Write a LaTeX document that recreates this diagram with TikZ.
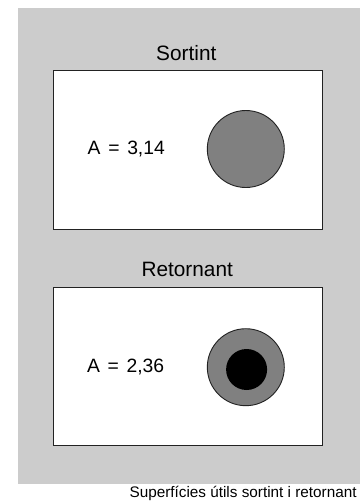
\documentclass[tikz,border=0pt]{standalone}
\usepackage{fontspec}
\setmainfont{Liberation Sans}
\definecolor{bggray}{HTML}{CCCCCC}
\definecolor{discgray}{HTML}{808080}
\definecolor{edge}{HTML}{222222}
\newcommand{\eqsp}{\hspace{0.4em}}
\begin{document}
\begin{tikzpicture}[x=1pt,y=-1pt,
  panel/.style={draw=edge,line width=1.4pt,fill=white,rectangle,inner sep=0pt},
  disc/.style={draw=edge,line width=0.9pt,fill=discgray,circle,inner sep=0pt,minimum size=77pt},
  core/.style={fill=black,circle,inner sep=0pt,minimum size=41pt},
  title/.style={font=\fontsize{20.8}{24}\selectfont,anchor=base,inner sep=0pt},
  area/.style={font=\fontsize{19.3}{22}\selectfont,anchor=base west,inner sep=0pt},
  caption/.style={font=\fontsize{15.3}{18}\selectfont,anchor=base east,inner sep=0pt}]
\useasboundingbox (0,0) rectangle (360,504);
\fill[white] (0,0) rectangle (360,504);
\fill[bggray] (18,8) rectangle (360,484);
% top panel
\node[panel,minimum width=269pt,minimum height=158.6pt] (box1) at (187.8,150) {};
\node[title] (t1) at (186.3,60) {Sortint};
\node[area] (a1) at (87.5,154) {A\eqsp=\eqsp3,14};
\node[disc] (c1) at (245.8,149) {};
% bottom panel
\node[panel,minimum width=269pt,minimum height=158pt] (box2) at (187.8,366.6) {};
\node[title] (t2) at (187.2,276) {Retornant};
\node[area] (a2) at (86.8,372.5) {A\eqsp=\eqsp2,36};
\node[disc] (c2) at (245.8,367.2) {};
\node[core] (k2) at (246.6,369.5) {};
% caption
\node[caption] (cap) at (356.8,497) {Superfícies útils sortint i retornant};
\end{tikzpicture}
\end{document}
